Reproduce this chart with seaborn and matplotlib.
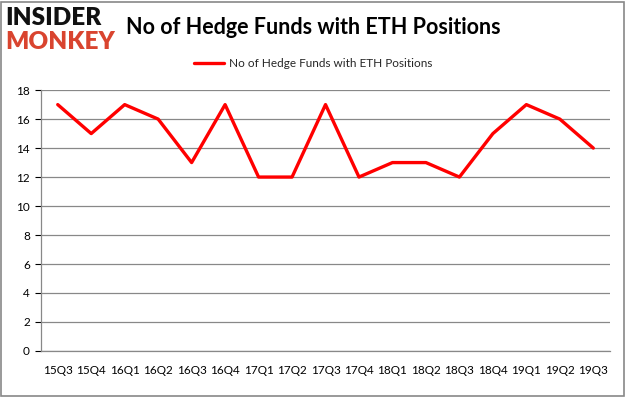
#!/usr/bin/env python3

import numpy as np
import pandas as pd
import matplotlib
matplotlib.use("Agg")
import matplotlib.pyplot as plt
import seaborn as sns

# data
quarters = ['15Q3', '15Q4', '16Q1', '16Q2', '16Q3', '16Q4', '17Q1', '17Q2', '17Q3',
            '17Q4', '18Q1', '18Q2', '18Q3', '18Q4', '19Q1', '19Q2', '19Q3']
funds = [17, 15, 17, 16, 13, 17, 12, 12, 17, 12, 13, 13, 12, 15, 17, 16, 14]
y_ticks = [0, 2, 4, 6, 8, 10, 12, 14, 16, 18]
series_name = 'No of Hedge Funds with ETH Positions'

sns.set_style("white")
plt.rcParams['font.family'] = ['Lato', 'DejaVu Sans']

df = pd.DataFrame({'quarter': quarters, 'funds': funds})
df['pos'] = np.arange(len(df))

fig = plt.figure(figsize=(6.26, 3.97), dpi=100)
ax = fig.add_axes([0.0655, 0.116, 0.909, 0.657])

sns.lineplot(data=df, x='pos', y='funds', ax=ax, color='#ff0000', linewidth=2.4,
             label=series_name, legend=False)

ax.set_xlim(-0.5, len(quarters) - 0.5)
ax.set_ylim(0, 18)
ax.set_yticks(y_ticks)
ax.set_yticklabels([str(v) for v in y_ticks], fontsize=8.5)
ax.yaxis.grid(True, color='#888888', linewidth=0.9)
ax.set_axisbelow(True)

# category labels centred, tick marks on the boundaries
ax.set_xticks(df['pos'])
ax.set_xticklabels(quarters, fontsize=8.5)
ax.tick_params(axis='x', length=0, pad=10)
ax.set_xticks(np.arange(-0.5, len(quarters), 1.0), minor=True)
ax.tick_params(axis='x', which='minor', length=4, color='#888888', direction='out')
ax.tick_params(axis='y', length=4, color='#888888', direction='out', left=True, pad=4)
ax.tick_params(colors='#000000', which='major', labelcolor='#000000')
ax.set_xlabel('')
ax.set_ylabel('')

for side in ['top', 'right']:
    ax.spines[side].set_visible(False)
for side in ['left', 'bottom']:
    ax.spines[side].set_color('#888888')
    ax.spines[side].set_linewidth(0.9)

handles, labels = ax.get_legend_handles_labels()
fig.legend(handles, labels, loc='center', bbox_to_anchor=(0.5, 0.84), frameon=False,
           fontsize=8.5, handlelength=2.6, handletextpad=0.4)

# title and logo
fig.text(0.5, 0.93, 'No of Hedge Funds with ETH Positions', ha='center', va='center',
         fontsize=15.5, fontweight='bold', color='#000000')
fig.text(0.008, 0.955, 'INSIDER', ha='left', va='center', fontsize=17.5,
         fontweight='heavy', color='#111111')
fig.text(0.008, 0.893, 'MONKEY', ha='left', va='center', fontsize=17.5,
         fontweight='heavy', color='#d9442f')

# outer border
fig.patches.append(plt.Rectangle((0.002, 0.003), 0.995, 0.993, transform=fig.transFigure,
                                 fill=False, edgecolor='#888888', linewidth=1.2))

fig.savefig('out.png', dpi=100)
